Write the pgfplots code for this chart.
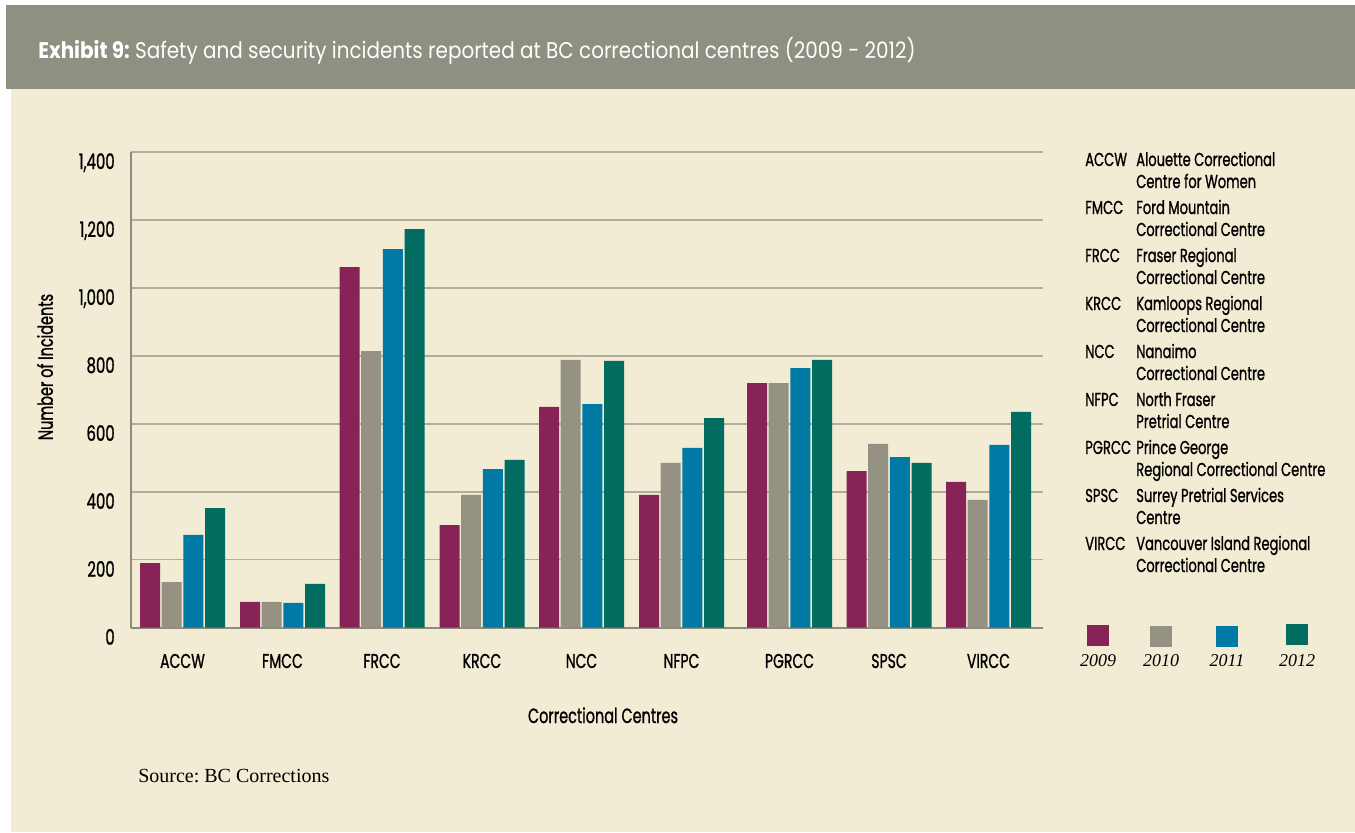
\documentclass[border=0pt]{standalone}
\usepackage{pgfplots}
\usepackage{pgfplotstable}
\pgfplotsset{compat=1.18}
\usepackage{fontspec}
\setmainfont{Liberation Serif}
\newfontfamily\cond[FakeStretch=0.7,FakeBold=1.0]{Poppins}
\newfontfamily\titlefont[FakeStretch=0.88]{Poppins}
\definecolor{cream}{HTML}{F2ECD4}
\definecolor{hdr}{HTML}{8F8F82}
\definecolor{gridc}{HTML}{B1AD9B}
\definecolor{axc}{HTML}{8E8B7E}
\definecolor{c09}{HTML}{872357}
\definecolor{c10}{HTML}{959283}
\definecolor{c11}{HTML}{0079A4}
\definecolor{c12}{HTML}{036C61}
\pgfplotstableread{
x y09 y10 y11 y12
0     190  134  273  352
1.0    76   76   73  129
1.995 1061  814 1114 1173
2.995  302  391  467  494
3.99   650  788  658  785
4.99   391  485  529  617
6.07   720  720  764  788
7.065  461  541  502  485
8.06   429  376  538  635
}\data
\begin{document}
\frenchspacing
\begin{tikzpicture}[x=0.75pt,y=-0.75pt]
\useasboundingbox (0,0) rectangle (1355,832);
\fill[white] (0,0) rectangle (1355,832);
\fill[hdr] (6,5) rectangle (1355,89);
\fill[cream] (11,89) rectangle (1355,832);
\node[anchor=base west, text=white, inner sep=0, font=\titlefont\fontsize{17}{20}\selectfont] at (38,58) {\textbf{Exhibit 9:} Safety and security incidents reported at BC correctional centres (2009 - 2012)};
\begin{axis}[
  at={(98.25pt,-470.78pt)}, anchor=south west,
  scale only axis, width=684pt, height=356.78pt,
  xmin=-0.515, xmax=8.605, ymin=0, ymax=1400,
  axis x line=bottom, axis y line=left,
  axis line style={-, axc, line width=1.8pt},
  ytick={0,200,...,1400},
  yticklabels={0,200,400,600,800,{1,000},{1,200},{1,400}},
  xtick={0,1.0,1.995,2.995,3.99,4.99,6.07,7.065,8.06},
  xticklabels={ACCW,FMCC,FRCC,KRCC,NCC,NFPC,PGRCC,SPSC,VIRCC},
  major tick length=0pt,
  ymajorgrids, grid style={gridc, line width=1.1pt},
  yticklabel style={font=\cond\fontsize{16}{18}\selectfont, anchor=base east, inner sep=0pt, xshift=-12pt, yshift=-12.75pt},
  xticklabel style={font=\cond\fontsize{15}{17}\selectfont, anchor=base, inner sep=0pt, yshift=-30.2pt},
  ybar=1.25pt, bar width=15pt,
  clip=false,
]
\addplot[draw=none, fill=c09] table[x=x,y=y09]{\data};
\addplot[draw=none, fill=c10] table[x=x,y=y10]{\data};
\addplot[draw=none, fill=c11] table[x=x,y=y11]{\data};
\addplot[draw=none, fill=c12] table[x=x,y=y12]{\data};
\end{axis}
\node[rotate=90, font=\cond\fontsize{15.5}{18}\selectfont, inner sep=0] at (45,367) {Number of Incidents};
\node[font=\cond\fontsize{15.5}{18}\selectfont, inner sep=0, anchor=base] at (603,723) {Correctional Centres};
\node[anchor=base west, inner sep=0, font=\fontsize{15}{18}\selectfont] at (138,782) {Source: BC Corrections};
% legend of abbreviations
\begin{scope}[every node/.style={anchor=base west, inner sep=0, font=\cond\fontsize{14}{16}\selectfont}]
\foreach \ab/\la/\lb [count=\i from 0] in {
  ACCW/Alouette Correctional/Centre for Women,
  FMCC/Ford Mountain/Correctional Centre,
  FRCC/Fraser Regional/Correctional Centre,
  KRCC/Kamloops Regional/Correctional Centre,
  NCC/Nanaimo/Correctional Centre,
  NFPC/North Fraser/Pretrial Centre,
  PGRCC/Prince George/Regional Correctional Centre,
  SPSC/Surrey Pretrial Services/Centre,
  VIRCC/Vancouver Island Regional/Correctional Centre}{
  \node at (1085,166+48*\i) {\ab};
  \node at (1136,166+48*\i) {\la};
  \node at (1136,188+48*\i) {\lb};
}
\end{scope}
% year legend
\fill[c09] (1087,625) rectangle (1109,646);
\fill[c10] (1150,626) rectangle (1172,647);
\fill[c11] (1216,626) rectangle (1238,647);
\fill[c12] (1286,624) rectangle (1308,645);
\begin{scope}[every node/.style={anchor=base, inner sep=0, font=\itshape\fontsize{13.5}{16}\selectfont}]
\node at (1098,666) {2009};
\node at (1161,666) {2010};
\node at (1227,666) {2011};
\node at (1297,666) {2012};
\end{scope}
\end{tikzpicture}
\end{document}
